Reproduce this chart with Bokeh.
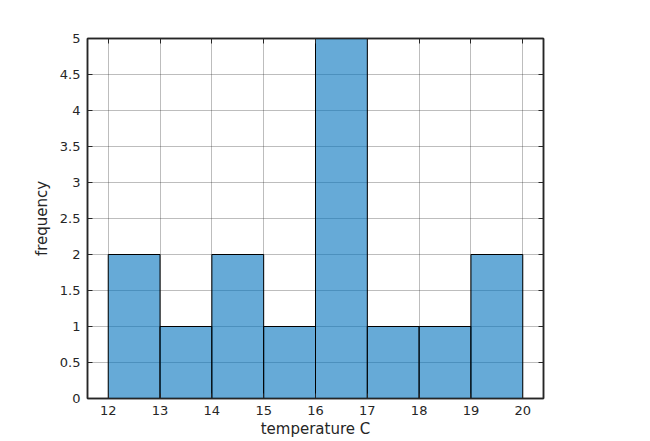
from bokeh.plotting import figure
from bokeh.models import Range1d, LinearAxis, FixedTicker, CustomJSTickFormatter
from bokeh.embed import file_html
from bokeh.resources import INLINE

bin_edges = [12, 13, 14, 15, 16, 17, 18, 19, 20]
counts = [2, 1, 2, 1, 5, 1, 1, 2]
x_ticks = [12, 13, 14, 15, 16, 17, 18, 19, 20]
y_ticks = [0, 0.5, 1, 1.5, 2, 2.5, 3, 3.5, 4, 4.5, 5]

FONT = "DejaVu Sans"
TXT = "#262626"

p = figure(width=650, height=441, output_backend="svg", toolbar_location=None,
           x_range=Range1d(11.6, 20.4), y_range=Range1d(0, 5),
           min_border_left=87, min_border_right=107, min_border_top=38, min_border_bottom=43)

p.quad(left=bin_edges[:-1], right=bin_edges[1:], bottom=0, top=counts,
       fill_color="#0072BD", fill_alpha=0.6, line_color="#000000", line_width=1)

p.outline_line_color = TXT
p.outline_line_width = 1.5

for ax in p.xaxis:
    ax.ticker = FixedTicker(ticks=x_ticks)
for ax in p.yaxis:
    ax.ticker = FixedTicker(ticks=y_ticks)

p.xaxis.axis_label = "temperature C"
p.yaxis.axis_label = "frequency"

def style(ax):
    ax.major_tick_in = 5
    ax.major_tick_out = 0
    ax.minor_tick_in = 0
    ax.minor_tick_out = 0
    ax.axis_line_color = TXT
    ax.axis_line_width = 1.5
    ax.major_tick_line_color = TXT
    ax.major_label_text_font = FONT
    ax.major_label_text_font_size = "13px"
    ax.major_label_text_color = TXT
    ax.axis_label_text_font = FONT
    ax.axis_label_text_font_size = "15px"
    ax.axis_label_text_font_style = "normal"
    ax.axis_label_text_color = TXT

style(p.xaxis[0])
style(p.yaxis[0])
p.xaxis[0].major_label_standoff = 7
p.xaxis[0].axis_label_standoff = 2
p.yaxis[0].major_label_standoff = 7
p.yaxis[0].axis_label_standoff = 6

blank = CustomJSTickFormatter(code="return '';")
top_ax = LinearAxis(ticker=FixedTicker(ticks=x_ticks), formatter=blank, major_label_standoff=0)
right_ax = LinearAxis(ticker=FixedTicker(ticks=y_ticks), formatter=blank, major_label_standoff=0)
style(top_ax)
style(right_ax)
p.add_layout(top_ax, "above")
p.add_layout(right_ax, "right")

p.xgrid.ticker = FixedTicker(ticks=x_ticks)
p.ygrid.ticker = FixedTicker(ticks=y_ticks)
p.grid.grid_line_color = "#262626"
p.grid.grid_line_alpha = 0.3
p.grid.grid_line_width = 1

open("out.html", "w").write(file_html(p, INLINE))
